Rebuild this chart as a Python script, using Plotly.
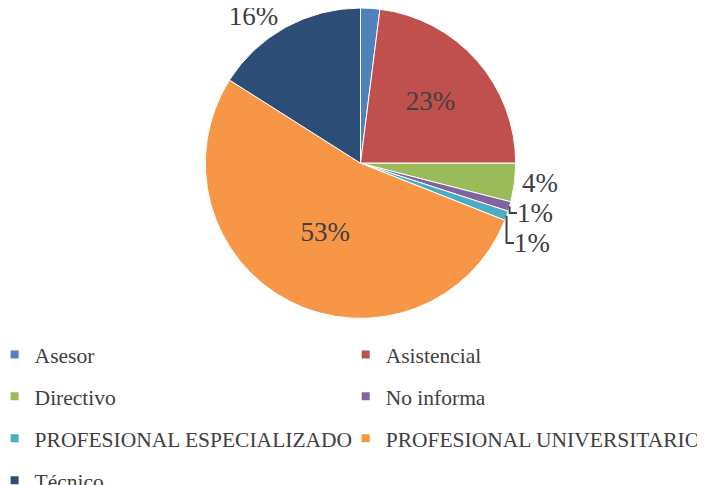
import plotly.graph_objects as go

categories = ["Asesor", "Asistencial", "Directivo", "No informa",
              "PROFESIONAL ESPECIALIZADO", "PROFESIONAL UNIVERSITARIO", "Técnico"]
values = [2, 23, 4, 1, 1, 53, 16]
colors = ["#4F81BD", "#C0504D", "#9BBB59", "#8064A2", "#4BACC6", "#F79646", "#2C4D75"]
text_pos = ["outside", "inside", "outside", "outside", "outside", "inside", "outside"]

TEXT_COLOR = "#404040"
FONT = "Liberation Serif"

fig = go.Figure()
fig.add_trace(go.Pie(
    labels=categories,
    values=values,
    sort=False,
    direction="clockwise",
    rotation=0,
    marker=dict(colors=colors, line=dict(color="white", width=1)),
    texttemplate="%{percent:.0%}",
    textposition=text_pos,
    textfont=dict(family=FONT, size=27, color=TEXT_COLOR),
    insidetextorientation="horizontal",
    hoverinfo="label+percent",
    showlegend=False,
    domain=dict(x=[0.0, 1.0], y=[0.36, 1.0]),
))

# Legend entries (two columns, Excel-style ordering across rows)
for i, (name, col) in enumerate(zip(categories, colors)):
    fig.add_trace(go.Scatter(
        x=[None], y=[None], mode="markers", name=name,
        marker=dict(symbol="square", size=8, color=col),
        legend="legend" if i % 2 == 0 else "legend2",
        legendgroup=f"g{i}",
        hoverinfo="skip",
    ))

legend_common = dict(
    orientation="v",
    yanchor="top",
    xanchor="left",
    font=dict(family=FONT, size=21.5, color=TEXT_COLOR),
    tracegroupgap=11,
    bgcolor="rgba(0,0,0,0)",
    itemclick=False,
    itemdoubleclick=False,
    traceorder="grouped",
)

fig.update_layout(
    width=705, height=485,
    margin=dict(l=0, r=0, t=0, b=0, autoexpand=False),
    paper_bgcolor="white",
    plot_bgcolor="white",
    font=dict(family=FONT, color=TEXT_COLOR),
    showlegend=True,
    xaxis=dict(visible=False),
    yaxis=dict(visible=False),
    legend=dict(x=-0.019, y=0.328, **legend_common),
    legend2=dict(x=0.479, y=0.328, **legend_common),
)

fig.write_html("out.html")
